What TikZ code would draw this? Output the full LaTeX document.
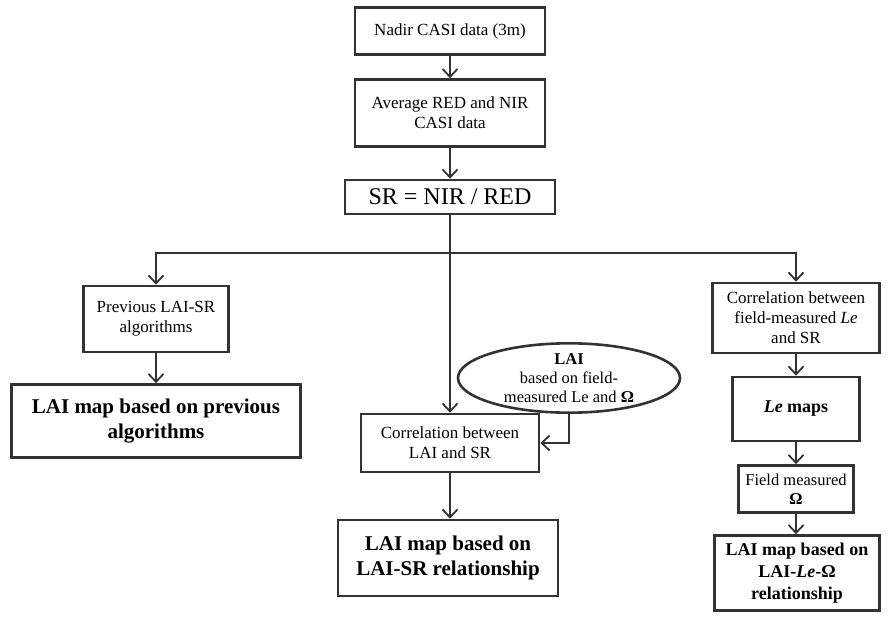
\documentclass[tikz,border=0pt]{standalone}
\usepackage{fontspec}
\setmainfont{Liberation Serif}
\usetikzlibrary{arrows.meta}
\usetikzlibrary{positioning}
\usetikzlibrary{shapes.geometric}

\definecolor{ink}{HTML}{333333}
\tikzset{
  box/.style={draw=ink, line width=2.6pt, align=center, inner sep=2pt,
    font=\fontsize{17}{20}\selectfont},
  mapbox/.style={box, font=\fontsize{21}{25}\selectfont\bfseries},
  arr/.style={draw=ink, line width=1.8pt,
    -{Straight Barb[length=8pt,width=15pt,line width=1.8pt]}}
}

\begin{document}
\begin{tikzpicture}[x=1pt,y=-1pt]
  \useasboundingbox (0,0) rectangle (894,626);
  % top chain
  \node[box, minimum width=190, minimum height=47] (nadir) at (450,31) {Nadir CASI data (3m)};
  \node[box, minimum width=190, minimum height=67] (avg) at (450,113) {Average RED and NIR\\CASI data};
  \node[box, minimum width=210, minimum height=34, font=\fontsize{24}{28}\selectfont] (sr) at (450,197) {SR = NIR / RED};
  \coordinate (split) at (450,253);
  % left branch
  \node[box, minimum width=145, minimum height=66] (prev) at (156,319) {Previous LAI-SR\\algorithms};
  \node[mapbox, minimum width=289, minimum height=73] (prevmap) at (156,421) {LAI map based on previous\\algorithms};
  % middle branch
  \node[draw=ink, line width=2.6pt, ellipse, align=center, inner sep=0pt,
    minimum width=222, minimum height=64, font=\fontsize{16.5}{19}\selectfont] (laiell) at (569,378)
    {\textbf{LAI}\\based on field-\\measured Le and \textbf{Ω}};
  \node[box, minimum width=178, minimum height=58] (corr) at (450,443) {Correlation between\\LAI and SR};
  \node[mapbox, minimum width=220, minimum height=76] (srmap) at (448,558) {LAI map based on\\LAI-SR relationship};
  % right branch
  \node[box, minimum width=167, minimum height=70] (corrle) at (796,318) {Correlation between\\field-measured \textit{Le}\\and SR};
  \node[box, minimum width=127, minimum height=64, font=\fontsize{18}{21}\selectfont] (lemaps) at (796,409) {\textbf{\textit{Le} maps}};
  \node[box, minimum width=115, minimum height=47, font=\fontsize{16.5}{19}\selectfont] (omega) at (796,489) {Field measured\\\textbf{Ω}};
  \node[mapbox, minimum width=165, minimum height=75, font=\fontsize{18}{22}\selectfont\bfseries] (lemap) at (797,573) {LAI map based on\\LAI-\textit{Le}-Ω\\relationship};
  % connectors
  \draw[arr] (nadir) -- (avg);
  \draw[arr] (avg) -- (sr);
  \draw[ink, line width=1.8pt] (sr.south) -- (split);
  \draw[arr] (split) -| (prev.north);
  \draw[arr] (split) -| (corrle.north);
  \draw[arr] (split) -- (corr.north);
  \draw[arr] (prev) -- (prevmap);
  \draw[arr] (laiell.south) |- (corr.east);
  \draw[arr] (corr) -- (corr.south |- srmap.north);
  \draw[arr] (corrle) -- (lemaps);
  \draw[arr] (lemaps) -- (omega);
  \draw[arr] (omega) -- (omega.south |- lemap.north);
\end{tikzpicture}
\end{document}
